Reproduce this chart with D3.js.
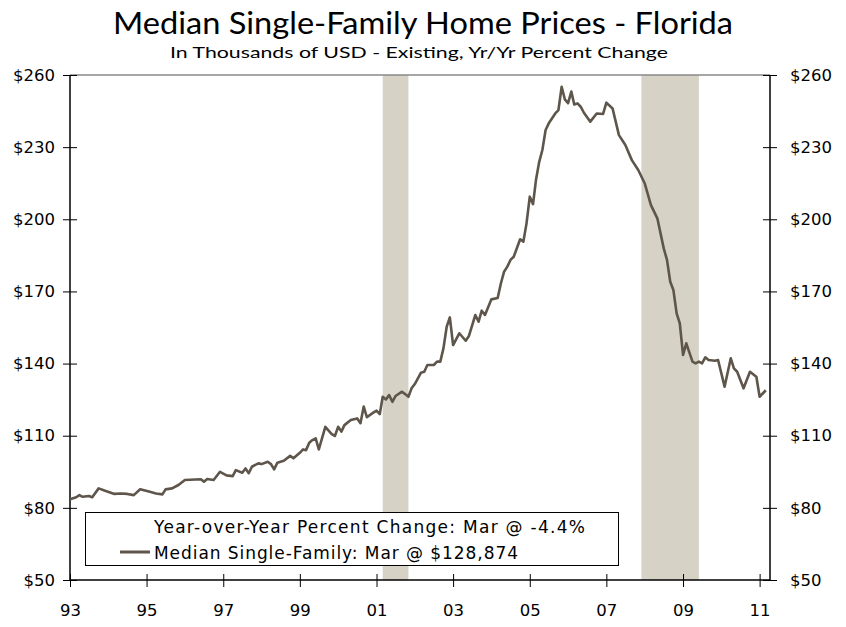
<!DOCTYPE html>
<html>
<head>
<meta charset="utf-8">
<script src="https://cdn.jsdelivr.net/npm/d3@7"></script>
<style>
  html, body { margin: 0; padding: 0; background: #fff; }
  svg { display: block; }
</style>
</head>
<body>
<svg id="chart" width="846" height="627"></svg>
<script>
// ---------- data ----------
const titleText = "Median Single-Family Home Prices - Florida";
const subtitleText = "In Thousands of USD - Existing, Yr/Yr Percent Change";
const legendLabels = ["Year-over-Year Percent Change: Mar @ -4.4%", "Median Single-Family: Mar @ $128,874"];

const months = ["1993-01","1993-03","1993-04","1993-05","1993-07","1993-08","1993-10","1993-12",
"1994-03","1994-05","1994-07","1994-09","1994-11","1995-02","1995-04","1995-06","1995-07","1995-09","1995-11",
"1996-01","1996-06","1996-07","1996-08","1996-10","1996-12","1997-02","1997-04","1997-05","1997-07","1997-08",
"1997-09","1997-10","1997-12","1998-01","1998-03","1998-04","1998-05","1998-06","1998-08","1998-10","1998-11",
"1999-01","1999-02","1999-03","1999-04","1999-05","1999-06","1999-07","1999-09","1999-11","1999-12",
"2000-01","2000-02","2000-03","2000-05","2000-07","2000-08","2000-09","2000-10","2000-12",
"2001-01","2001-02","2001-03","2001-04","2001-05","2001-06","2001-07","2001-09","2001-10","2001-11","2001-12",
"2002-01","2002-03","2002-04","2002-05","2002-07","2002-08","2002-09","2002-10","2002-11","2002-12",
"2003-01","2003-03","2003-05","2003-06","2003-08","2003-09","2003-10","2003-11",
"2004-01","2004-03","2004-04","2004-05","2004-06","2004-07","2004-08","2004-10","2004-11","2004-12",
"2005-01","2005-02","2005-03","2005-04","2005-05","2005-06","2005-07","2005-09","2005-10","2005-11","2005-12",
"2006-01","2006-02","2006-03","2006-04","2006-05","2006-06","2006-08","2006-10","2006-12",
"2007-01","2007-03","2007-05","2007-07","2007-09","2007-11",
"2008-01","2008-03","2008-05","2008-07","2008-08","2008-09","2008-10","2008-11","2008-12",
"2009-01","2009-02","2009-04","2009-05","2009-06","2009-07","2009-08","2009-09","2009-11","2009-12",
"2010-02","2010-04","2010-05","2010-06","2010-08","2010-10","2010-12","2011-01","2011-03"];

const medianPrice = [83.6,84.4,85.3,84.6,84.9,84.4,88.1,87.1,
85.8,86.0,85.8,85.3,87.7,86.7,86.0,85.6,87.7,88.1,89.5,
91.6,91.9,90.9,92.0,91.6,95.0,93.5,93.2,95.7,94.6,96.4,
94.4,97.1,98.5,98.2,99.2,98.2,96.0,98.8,99.6,101.6,100.6,
102.9,104.3,104.0,107.1,108.2,108.9,104.3,113.7,110.7,109.9,
113.7,111.7,114.4,116.5,117.2,115.2,122.1,117.7,119.6,
120.4,119.0,126.2,125.1,126.9,124.1,126.5,128.3,127.3,126.2,129.7,
131.5,136.2,136.6,139.4,139.4,140.8,140.8,146.3,155.3,159.2,
147.7,152.6,149.5,151.5,160.2,157.4,162.0,160.2,
166.7,167.3,173.4,178.2,180.3,183.1,184.4,191.7,190.7,198.3,
209.4,206.3,216.3,223.9,228.8,237.1,239.9,244.0,245.4,255.1,249.9,
248.3,253.1,247.7,248.2,246.8,244.3,240.6,244.0,243.8,
248.5,246.1,235.0,230.9,224.6,220.5,
215.0,205.9,200.4,187.9,183.1,174.0,170.6,160.9,156.7,
143.6,148.4,140.8,140.1,140.8,140.1,142.6,141.5,141.2,141.5,
130.4,142.2,138.0,136.6,129.7,136.6,134.5,126.2,128.9];

const recessionStarts = ["2001-03", "2007-12"];
const recessionEnds = ["2001-11", "2009-06"];

const yTicks = [50, 80, 110, 140, 170, 200, 230, 260];
const xTickYears = [1993, 1995, 1997, 1999, 2001, 2003, 2005, 2007, 2009, 2011];

// ---------- layout ----------
const svg = d3.select("#chart");
const plotL = 70, plotR = 770, plotT = 75, plotB = 580;
const parseMonth = d3.timeParse("%Y-%m");

const x = d3.scaleTime()
  .domain([new Date(1993, 0, 1), new Date(2011, 3, 10)])
  .range([plotL, plotR]);
const y = d3.scaleLinear().domain([50, 260]).range([plotB, plotT]);

const lineColor = "#5e554b";
const bandColor = "#d6d3c6";
const tickFont = "'DejaVu Sans', Verdana, sans-serif";

// recession bands
svg.append("g").selectAll("rect")
  .data(recessionStarts.map((s, i) => [parseMonth(s), parseMonth(recessionEnds[i])]))
  .join("rect")
  .attr("x", d => x(d[0]))
  .attr("width", d => x(d[1]) - x(d[0]))
  .attr("y", plotT)
  .attr("height", plotB - plotT)
  .attr("fill", bandColor);

// top border
svg.append("line")
  .attr("x1", plotL).attr("x2", plotR).attr("y1", plotT).attr("y2", plotT)
  .attr("stroke", "#888").attr("stroke-width", 1.5);

// axes
function styleAxis(g, inner, outer, horizontal) {
  g.selectAll(".domain").remove();
  g.selectAll(".tick line").attr("stroke", "#000").attr("stroke-width", 1)
    .attr(horizontal ? "y1" : "x1", inner).attr(horizontal ? "y2" : "x2", outer);
  g.selectAll(".tick text").attr("font-family", tickFont).attr("font-size", 16.5).attr("fill", "#000");
}

const yLeft = svg.append("g").attr("transform", `translate(${plotL},0)`)
  .call(d3.axisLeft(y).tickValues(yTicks).tickSize(7).tickPadding(8).tickFormat(d => "$" + d));
styleAxis(yLeft, 7, -7, false);

const yRight = svg.append("g").attr("transform", `translate(${plotR},0)`)
  .call(d3.axisRight(y).tickValues(yTicks).tickSize(7).tickPadding(13).tickFormat(d => "$" + d));
styleAxis(yRight, -7, 7, false);

const xAxis = svg.append("g").attr("transform", `translate(0,${plotB})`)
  .call(d3.axisBottom(x).tickValues(xTickYears.map(yr => new Date(yr, 0, 1)))
    .tickSize(7).tickPadding(17).tickFormat(d3.timeFormat("%y")));
styleAxis(xAxis, -6, 7, true);

// axis lines
svg.append("line").attr("x1", plotL).attr("x2", plotL).attr("y1", plotT).attr("y2", plotB + 1)
  .attr("stroke", "#000").attr("stroke-width", 1.5);
svg.append("line").attr("x1", plotR).attr("x2", plotR).attr("y1", plotT).attr("y2", plotB + 1)
  .attr("stroke", "#000").attr("stroke-width", 1.5);
svg.append("line").attr("x1", plotL).attr("x2", plotR).attr("y1", plotB).attr("y2", plotB)
  .attr("stroke", "#000").attr("stroke-width", 1.5);

// series line
const data = months.map((m, i) => ({ date: parseMonth(m), value: medianPrice[i] }));
svg.append("path")
  .datum(data)
  .attr("fill", "none")
  .attr("stroke", lineColor)
  .attr("stroke-width", 2.6)
  .attr("stroke-linejoin", "round")
  .attr("d", d3.line().x(d => x(d.date)).y(d => y(d.value)));

// title
svg.append("text").attr("x", 423).attr("y", 34).attr("text-anchor", "middle")
  .attr("font-family", "Lato, sans-serif").attr("font-size", 30).attr("fill", "#000")
  .attr("textLength", 620).attr("lengthAdjust", "spacingAndGlyphs")
  .text(titleText);
svg.append("text").attr("x", 419).attr("y", 58).attr("text-anchor", "middle")
  .attr("font-family", "Lato, sans-serif").attr("font-size", 16).attr("fill", "#000")
  .attr("textLength", 498).attr("lengthAdjust", "spacingAndGlyphs")
  .text(subtitleText);

// legend
const legendWidths = [431, 364];
const lg = svg.append("g");
lg.append("rect").attr("x", 85.5).attr("y", 512.5).attr("width", 533).attr("height", 53)
  .attr("fill", "#fff").attr("stroke", "#000").attr("stroke-width", 1);
lg.append("line").attr("x1", 120).attr("x2", 150).attr("y1", 552).attr("y2", 552)
  .attr("stroke", lineColor).attr("stroke-width", 3);
lg.selectAll("text.leg").data(legendLabels).join("text")
  .attr("class", "leg")
  .attr("x", 154)
  .attr("y", (d, i) => 533 + i * 26)
  .attr("font-family", tickFont).attr("font-size", 17).attr("fill", "#000")
  .attr("textLength", (d, i) => legendWidths[i]).attr("lengthAdjust", "spacing")
  .text(d => d);
</script>
</body>
</html>
